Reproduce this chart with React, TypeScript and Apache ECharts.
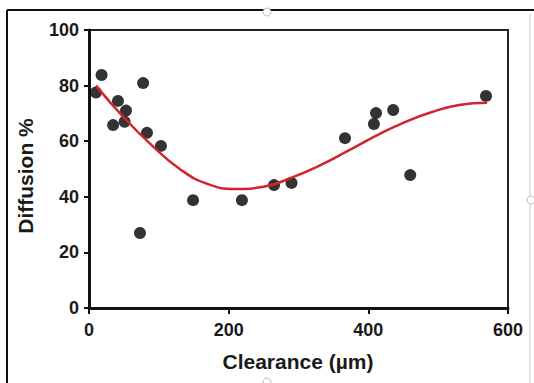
import React, { useEffect, useRef } from "react";
import * as echarts from "echarts";

const clearance = [10, 18, 34.5, 41.5, 51, 53, 73, 77.5, 83, 103, 149, 219, 265, 290, 366.6, 408, 411, 435.6, 460, 568.5];
const diffusion = [77.5, 83.8, 65.8, 74.5, 67, 71, 27, 80.9, 63, 58.3, 38.8, 38.8, 44.2, 45, 61.1, 66.2, 70.1, 71.2, 47.8, 76.3];

const fitX = [10, 50, 90, 130, 170, 210, 250, 290, 330, 370, 410, 450, 490, 530, 570];
const fitY = [80, 68.5, 58.5, 50, 44.6, 42.8, 43.6, 46.9, 51.2, 56.4, 61.8, 66.6, 70.4, 73, 73.8];

const xTicks = [0, 200, 400, 600];
const yTicks = [0, 20, 40, 60, 80, 100];

const FONT = 'Arial, "Liberation Sans", sans-serif';

export default function App() {
  const ref = useRef<HTMLDivElement>(null);
  useEffect(() => {
    if (!ref.current) return;
    const chart = echarts.init(ref.current, null, { renderer: "svg" });
    chart.setOption({
      animation: false,
      backgroundColor: "#ffffff",
      grid: {
        left: 89,
        right: 26,
        top: 30,
        bottom: 75,
        show: true,
        borderColor: "#222",
        borderWidth: 2,
        backgroundColor: "transparent",
      },
      xAxis: {
        type: "value",
        min: xTicks[0],
        max: xTicks[xTicks.length - 1],
        interval: 200,
        axisLine: { show: true, lineStyle: { color: "#111", width: 3 } },
        axisTick: { show: true, length: 6, lineStyle: { color: "#111", width: 2 } },
        axisLabel: { margin: 13, fontSize: 18, fontWeight: "bold", color: "#1a1a1a", fontFamily: FONT },
        splitLine: { show: false },
      },
      yAxis: {
        type: "value",
        min: yTicks[0],
        max: yTicks[yTicks.length - 1],
        interval: 20,
        axisLine: { show: true, lineStyle: { color: "#111", width: 3 } },
        axisTick: { show: true, length: 5, lineStyle: { color: "#111", width: 2 } },
        axisLabel: { margin: 10, fontSize: 18, fontWeight: "bold", color: "#1a1a1a", fontFamily: FONT },
        splitLine: { show: false },
      },
      series: [
        {
          type: "scatter",
          data: clearance.map((x, i) => [x, diffusion[i]]),
          symbol: "circle",
          symbolSize: 12,
          itemStyle: { color: "#000" },
          z: 2,
        },
        {
          type: "line",
          data: fitX.map((x, i) => [x, fitY[i]]),
          smooth: 0.5,
          showSymbol: false,
          lineStyle: { color: "#d42230", width: 2.5 },
          z: 3,
        },
      ],
      graphic: [
        { type: "line", shape: { x1: 7, y1: 10, x2: 534, y2: 10 }, style: { stroke: "#111", lineWidth: 2 } },
        { type: "line", shape: { x1: 7, y1: 10, x2: 7, y2: 383 }, style: { stroke: "#111", lineWidth: 2 } },
        { type: "line", shape: { x1: 530, y1: 14, x2: 530, y2: 383 }, style: { stroke: "#c8c8c8", lineWidth: 1 } },
        { type: "circle", shape: { cx: 267, cy: 12, r: 4 }, style: { fill: "#fff", stroke: "#bbb", lineWidth: 1 } },
        { type: "circle", shape: { cx: 531, cy: 200, r: 4 }, style: { fill: "#fff", stroke: "#bbb", lineWidth: 1 } },
        { type: "circle", shape: { cx: 267, cy: 382, r: 4 }, style: { fill: "#fff", stroke: "#bbb", lineWidth: 1 } },
        {
          type: "text",
          x: 25,
          y: 176,
          rotation: Math.PI / 2,
          style: {
            text: "Diffusion %",
            font: `bold 21px ${FONT}`,
            fill: "#1a1a1a",
            align: "center",
            verticalAlign: "middle",
          },
        },
        {
          type: "text",
          x: 298,
          y: 361,
          style: {
            text: "Clearance (µm)",
            font: `bold 21px ${FONT}`,
            fill: "#1a1a1a",
            align: "center",
            verticalAlign: "middle",
          },
        },
      ],
    });
    return () => chart.dispose();
  }, []);
  return (
    <div
      ref={ref}
      style={{ position: "fixed", left: 0, top: 0, width: 534, height: 383 }}
    />
  );
}
